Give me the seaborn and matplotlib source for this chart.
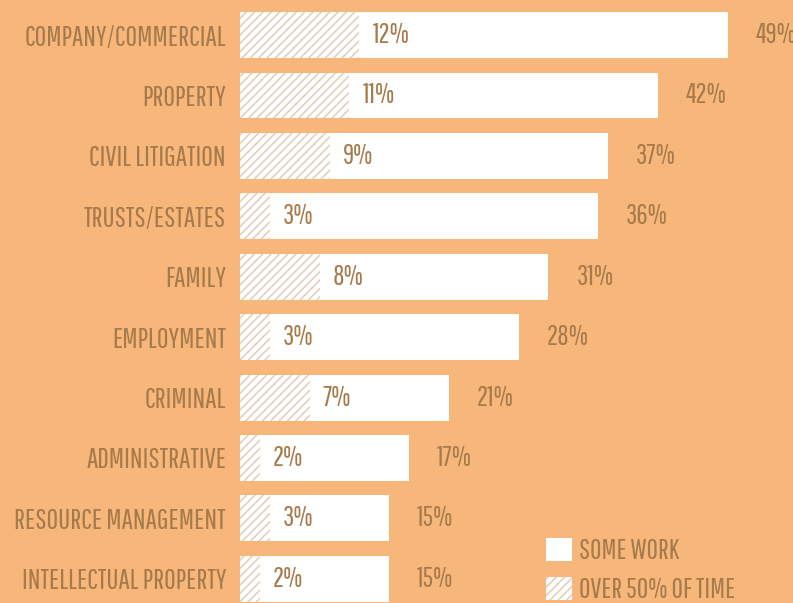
import matplotlib
matplotlib.use("Agg")
import matplotlib.pyplot as plt
from matplotlib.patches import Patch
import seaborn as sns
import pandas as pd

# Share of respondents doing each area of work
categories = ["COMPANY/COMMERCIAL", "PROPERTY", "CIVIL LITIGATION", "TRUSTS/ESTATES",
              "FAMILY", "EMPLOYMENT", "CRIMINAL", "ADMINISTRATIVE",
              "RESOURCE MANAGEMENT", "INTELLECTUAL PROPERTY"]
some_work = [49, 42, 37, 36, 31, 28, 21, 17, 15, 15]
over_half = [12, 11, 9, 3, 8, 3, 7, 2, 3, 2]
legend_labels = ["SOME WORK", "OVER 50% OF TIME"]

BG = "#F7B77B"
INK = "#A67A4B"
HATCH = "#E3CDB8"
FONT = ["Pathway Gothic One", "DejaVu Sans"]
FS = 20.5
FS_VAL = 20

df = pd.DataFrame({"area": categories, "some": some_work, "over": over_half})

sns.set_theme(style="white")
plt.rcParams["font.family"] = FONT
plt.rcParams["hatch.linewidth"] = 1.1

fig = plt.figure(figsize=(7.93, 6.03), dpi=100, facecolor=BG)
ax = fig.add_axes([240 / 793, 0, 553 / 793, 1])
ax.set_facecolor(BG)

bar_w = 0.76
sns.barplot(data=df, x="some", y="area", order=categories, color="white",
            saturation=1, width=bar_w, linewidth=0, ax=ax)
sns.barplot(data=df, x="over", y="area", order=categories, color="white",
            saturation=1, width=bar_w, linewidth=0, edgecolor=HATCH,
            hatch="////", ax=ax)

ax.set_xlim(0, 553 / 9.95)
ax.set_ylim(9.40, -0.58)
ax.set_xlabel("")
ax.set_ylabel("")
ax.set_xticks([])
ax.set_yticks(range(len(categories)))
ax.set_yticklabels(categories, fontsize=FS, color=INK)
ax.tick_params(axis="y", length=0, pad=10)
for s in ax.spines.values():
    s.set_visible(False)

for i, (tot, ov) in enumerate(zip(some_work, over_half)):
    ax.annotate(f"{ov}%", (ov, i), xytext=(13, 0), textcoords="offset pixels",
                va="center", ha="left", fontsize=FS_VAL, color=INK)
    ax.annotate(f"{tot}%", (tot, i), xytext=(28, 0), textcoords="offset pixels",
                va="center", ha="left", fontsize=FS_VAL, color=INK)

handles = [Patch(facecolor="white", edgecolor="white", linewidth=0),
           Patch(facecolor="white", edgecolor=HATCH, hatch="////", linewidth=0)]
leg = fig.legend(handles, legend_labels, loc="lower left",
                 bbox_to_anchor=(546 / 793, 0.0), frameon=False, borderpad=0,
                 borderaxespad=0, fontsize=20, labelcolor=INK,
                 handlelength=0.94, handleheight=0.94,
                 handletextpad=0.25, labelspacing=0.45)

fig.savefig("out.png", dpi=100, facecolor=BG)
